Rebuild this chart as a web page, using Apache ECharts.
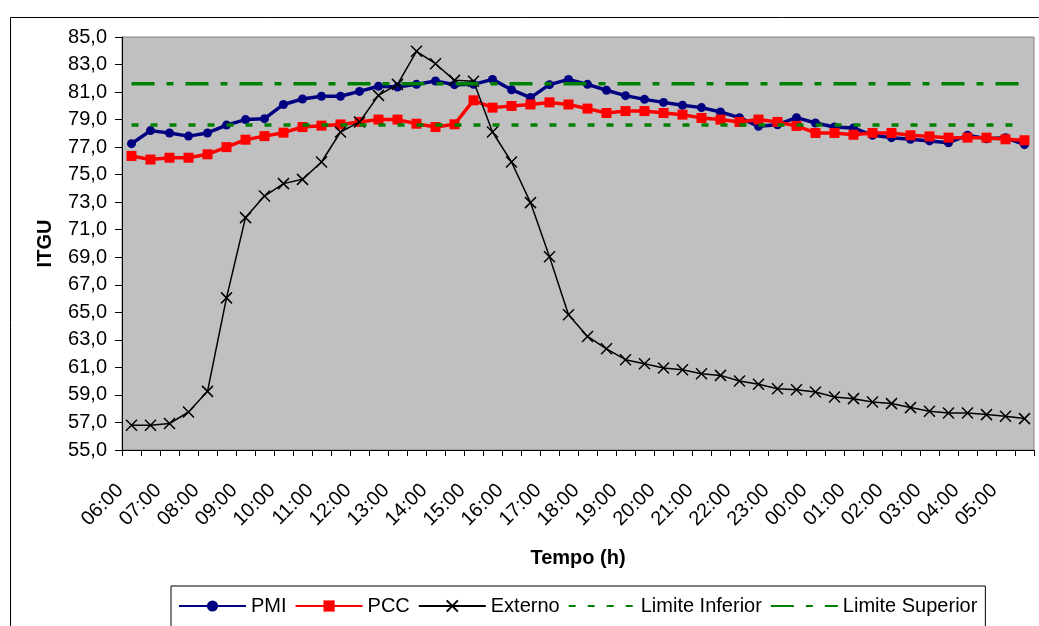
<!DOCTYPE html>
<html>
<head>
<meta charset="utf-8">
<script src="https://cdn.jsdelivr.net/npm/echarts@6/dist/echarts.min.js"></script>
<style>
html,body{margin:0;padding:0;background:#fff;}
#chart{width:1039px;height:626px;}
</style>
</head>
<body>
<div id="chart"></div>
<script>
var categories = ["06:00","06:30","07:00","07:30","08:00","08:30","09:00","09:30","10:00","10:30","11:00","11:30",
  "12:00","12:30","13:00","13:30","14:00","14:30","15:00","15:30","16:00","16:30","17:00","17:30",
  "18:00","18:30","19:00","19:30","20:00","20:30","21:00","21:30","22:00","22:30","23:00","23:30",
  "00:00","00:30","01:00","01:30","02:00","02:30","03:00","03:30","04:00","04:30","05:00","05:30"];

var pmi = [77.25,78.2,78.03,77.8,78.03,78.6,79.0,79.07,80.1,80.5,80.7,80.7,
  81.05,81.42,81.37,81.56,81.8,81.54,81.56,81.92,81.17,80.6,81.54,81.92,
  81.56,81.13,80.74,80.47,80.25,80.04,79.87,79.55,79.14,78.51,78.63,79.14,
  78.75,78.46,78.39,77.86,77.69,77.57,77.45,77.32,77.86,77.61,77.69,77.18];

var pcc = [76.36,76.1,76.23,76.23,76.48,77.0,77.54,77.8,78.05,78.46,78.56,78.65,
  78.83,79.0,79.0,78.7,78.46,78.66,80.4,79.87,79.99,80.1,80.25,80.1,
  79.8,79.48,79.62,79.62,79.48,79.36,79.12,79.0,78.83,79.0,78.83,78.54,
  78.03,78.03,77.9,78.03,78.03,77.86,77.78,77.69,77.69,77.69,77.57,77.5];

var externo = [56.8,56.8,56.92,57.76,59.26,66.05,71.88,73.45,74.35,74.66,75.92,78.1,
  78.83,80.76,81.56,83.96,83.06,81.85,81.78,78.1,75.92,72.97,69.04,64.82,
  63.25,62.35,61.56,61.27,60.95,60.83,60.54,60.42,60.01,59.77,59.45,59.38,
  59.21,58.85,58.73,58.49,58.37,58.08,57.81,57.69,57.69,57.57,57.45,57.28];

var LIMITE_INFERIOR = 78.6;
var LIMITE_SUPERIOR = 81.6;

var yMin = 55, yMax = 85, yStep = 2;

var FONT = "'Liberation Sans', Arial, sans-serif";
var chart = echarts.init(document.getElementById('chart'), null, {renderer: 'canvas'});

var crossPath = 'path://M0,0L10,10M10,0L0,10';

var option = {
  animation: false,
  backgroundColor: '#ffffff',
  textStyle: {fontFamily: FONT},
  graphic: [{
    type: 'rect', z: -10,
    shape: {x: 10.5, y: 17.5, width: 1100, height: 700},
    style: {fill: 'none', stroke: '#000', lineWidth: 1}
  }],
  grid: {
    left: 122, right: 5, top: 37, bottom: 176,
    show: true, backgroundColor: '#C0C0C0', borderColor: '#808080', borderWidth: 1
  },
  legend: {
    left: 171, top: 586,
    padding: [10, 8, 60, 7],
    borderColor: '#000', borderWidth: 1,
    itemWidth: 67, itemHeight: 14, itemGap: 8,
    textStyle: {fontFamily: FONT, fontSize: 20, color: '#000'},
    data: ['PMI', 'PCC', 'Externo', 'Limite Inferior', 'Limite Superior']
  },
  xAxis: {
    type: 'category',
    data: categories,
    boundaryGap: true,
    name: 'Tempo (h)',
    nameLocation: 'middle',
    nameGap: 98,
    nameTextStyle: {fontFamily: FONT, fontSize: 20, fontWeight: 'bold', color: '#000'},
    axisLine: {lineStyle: {color: '#000', width: 1}},
    axisTick: {show: true, interval: 0, length: 6, lineStyle: {color: '#000'}},
    axisLabel: {
      interval: 1, rotate: 45, margin: 26,
      fontFamily: FONT, fontSize: 20, color: '#000',
      padding: [0, 16, 0, 0]
    },
    splitLine: {show: false}
  },
  yAxis: {
    type: 'value',
    min: yMin, max: yMax, interval: yStep,
    name: 'ITGU',
    nameLocation: 'middle',
    nameGap: 67,
    nameRotate: 90,
    nameTextStyle: {fontFamily: FONT, fontSize: 20, fontWeight: 'bold', color: '#000'},
    axisLine: {show: true, lineStyle: {color: '#000', width: 1}},
    axisTick: {show: true, length: 7, lineStyle: {color: '#000'}},
    axisLabel: {
      margin: 15, fontFamily: FONT, fontSize: 20, color: '#000',
      formatter: function (v) { return v.toFixed(1).replace('.', ','); }
    },
    splitLine: {show: false}
  },
  series: [
    {
      name: 'PMI', type: 'line', data: pmi,
      symbol: 'circle', symbolSize: 9,
      lineStyle: {color: '#000080', width: 3.5},
      itemStyle: {color: '#000080'},
      z: 2
    },
    {
      name: 'PCC', type: 'line', data: pcc,
      symbol: 'rect', symbolSize: 10,
      lineStyle: {color: '#FF0000', width: 3.5},
      itemStyle: {color: '#FF0000'},
      z: 3
    },
    {
      name: 'Externo', type: 'line', data: externo,
      symbol: crossPath, symbolSize: 11,
      lineStyle: {color: '#000', width: 1.5},
      itemStyle: {color: 'rgba(0,0,0,0)', borderColor: '#000', borderWidth: 1.5},
      z: 4
    },
    {
      name: 'Limite Inferior', type: 'line',
      data: categories.map(function () { return LIMITE_INFERIOR; }),
      showSymbol: false, symbol: 'circle',
      lineStyle: {color: '#008000', width: 3.5, type: [7, 12]},
      itemStyle: {color: 'rgba(0,0,0,0)', borderColor: 'rgba(0,0,0,0)', borderWidth: 0},
      z: 5
    },
    {
      name: 'Limite Superior', type: 'line',
      data: categories.map(function () { return LIMITE_SUPERIOR; }),
      showSymbol: false, symbol: 'circle',
      lineStyle: {color: '#008000', width: 3.5, type: [23, 12, 7, 12]},
      itemStyle: {color: 'rgba(0,0,0,0)', borderColor: 'rgba(0,0,0,0)', borderWidth: 0},
      z: 5
    }
  ]
};
chart.setOption(option);
</script>
</body>
</html>
